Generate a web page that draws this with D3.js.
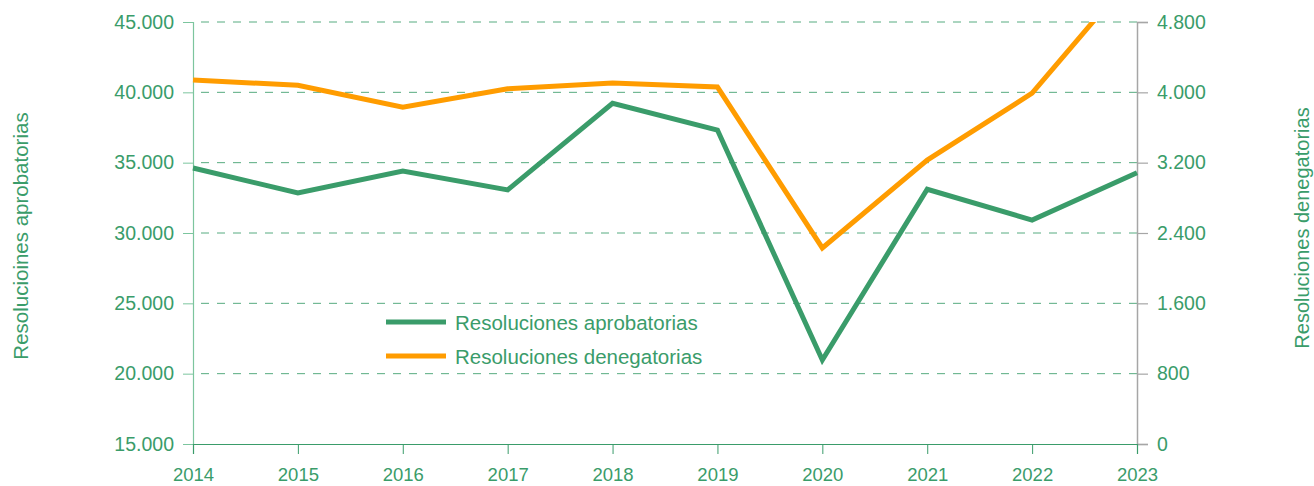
<!DOCTYPE html>
<html>
<head>
<meta charset="utf-8">
<script src="https://cdn.jsdelivr.net/npm/d3@7"></script>
<style>
  html, body { margin: 0; padding: 0; background: #fff; }
  svg { display: block; font-family: "Liberation Sans", Arial, sans-serif; }
</style>
</head>
<body>
<svg id="chart" width="1314" height="486"></svg>
<script>
// ---- data ----
const years = [2014, 2015, 2016, 2017, 2018, 2019, 2020, 2021, 2022, 2023];
const aprobatorias = [34620, 32850, 34410, 33060, 39220, 37320, 20970, 33110, 30920, 34290];
const denegatorias = [4140, 4080, 3830, 4040, 4105, 4060, 2230, 3230, 3990, 5390];
const leftTicks = [15000, 20000, 25000, 30000, 35000, 40000, 45000];
const rightTicks = [0, 800, 1600, 2400, 3200, 4000, 4800];
const seriesNames = ["Resoluciones aprobatorias", "Resoluciones denegatorias"];
const leftTitle = "Resolucioines aprobatorias";
const rightTitle = "Resoluciones denegatorias";

// ---- styles ----
const GREEN = "#3a9c6a";
const ORANGE = "#ff9c00";
const GRID = "#3a9c6a";
const LEFT_AXIS = "#7cc59e";
const GRAY = "#a6a6a6";

const svg = d3.select("#chart");
const L = 193, R = 1137, T = 22, B = 444;

const x = d3.scaleLinear().domain([2014, 2023]).range([L, R]);
const yL = d3.scaleLinear().domain([15000, 45000]).range([B, T]);
const yR = d3.scaleLinear().domain([0, 4800]).range([B, T]);

const es = d3.formatLocale({decimal: ",", thousands: ".", grouping: [3], currency: ["", " €"]});
const fmt = es.format(",d");

// gridlines
svg.append("g").selectAll("line")
  .data(leftTicks.filter(d => d > 15000))
  .join("line")
  .attr("x1", L).attr("x2", R)
  .attr("y1", d => yL(d)).attr("y2", d => yL(d))
  .attr("stroke", GRID).attr("stroke-width", 1).attr("stroke-opacity", 0.85)
  .attr("stroke-dasharray", "8,8").attr("stroke-dashoffset", -8);

// left axis
const gL = svg.append("g").attr("transform", `translate(${L},0)`)
  .call(d3.axisLeft(yL).tickValues(leftTicks).tickFormat(fmt).tickSize(10).tickPadding(9));
gL.select(".domain").attr("stroke", LEFT_AXIS).attr("stroke-width", 1.2);
gL.selectAll(".tick line").attr("stroke", LEFT_AXIS);
gL.selectAll(".tick text").attr("fill", GREEN).attr("font-size", "19.5px")
  .attr("font-family", "Liberation Sans, Arial, sans-serif");

// right axis
const gR = svg.append("g").attr("transform", `translate(${R},0)`)
  .call(d3.axisRight(yR).tickValues(rightTicks).tickFormat(fmt).tickSize(11).tickPadding(9));
gR.select(".domain").attr("stroke", GRAY).attr("stroke-width", 1.5);
gR.selectAll(".tick line").attr("stroke", GRAY).attr("stroke-width", 1.2);
gR.selectAll(".tick text").attr("fill", GREEN).attr("font-size", "19.5px")
  .attr("font-family", "Liberation Sans, Arial, sans-serif");

// bottom axis
const gB = svg.append("g").attr("transform", `translate(0,${B})`)
  .call(d3.axisBottom(x).tickValues(years).tickFormat(d3.format("d")).tickSize(10).tickPadding(14));
gB.select(".domain").attr("stroke", GREEN).attr("stroke-width", 1.2);
gB.selectAll(".tick line").attr("stroke", GREEN);
gB.selectAll(".tick text").attr("fill", GREEN).attr("font-size", "18.5px")
  .attr("font-family", "Liberation Sans, Arial, sans-serif");

// clip
svg.append("clipPath").attr("id", "plot")
  .append("rect").attr("x", L - 5).attr("y", T).attr("width", R - L + 10).attr("height", B - T);

const lineL = d3.line().x((d, i) => x(years[i])).y(d => yL(d));
const lineR = d3.line().x((d, i) => x(years[i])).y(d => yR(d));

svg.append("path").datum(denegatorias)
  .attr("clip-path", "url(#plot)")
  .attr("d", lineR).attr("fill", "none")
  .attr("stroke", ORANGE).attr("stroke-width", 5).attr("stroke-linejoin", "miter");

svg.append("path").datum(aprobatorias)
  .attr("clip-path", "url(#plot)")
  .attr("d", lineL).attr("fill", "none")
  .attr("stroke", GREEN).attr("stroke-width", 5).attr("stroke-linejoin", "miter");

// legend
const legend = svg.append("g");
const legColors = [GREEN, ORANGE];
seriesNames.forEach((name, i) => {
  const yy = 322 + i * 34;
  legend.append("line").attr("x1", 386).attr("x2", 446).attr("y1", yy).attr("y2", yy)
    .attr("stroke", legColors[i]).attr("stroke-width", 5);
  legend.append("text").attr("x", 455).attr("y", yy + 7.5)
    .attr("fill", GREEN).attr("font-size", "20.5px").text(name);
});

// axis titles
svg.append("text")
  .attr("transform", `translate(28,236) rotate(-90)`)
  .attr("text-anchor", "middle").attr("fill", GREEN).attr("font-size", "20.5px")
  .text(leftTitle);
svg.append("text")
  .attr("transform", `translate(1309,228) rotate(-90)`)
  .attr("text-anchor", "middle").attr("fill", GREEN).attr("font-size", "20px")
  .text(rightTitle);
</script>
</body>
</html>
